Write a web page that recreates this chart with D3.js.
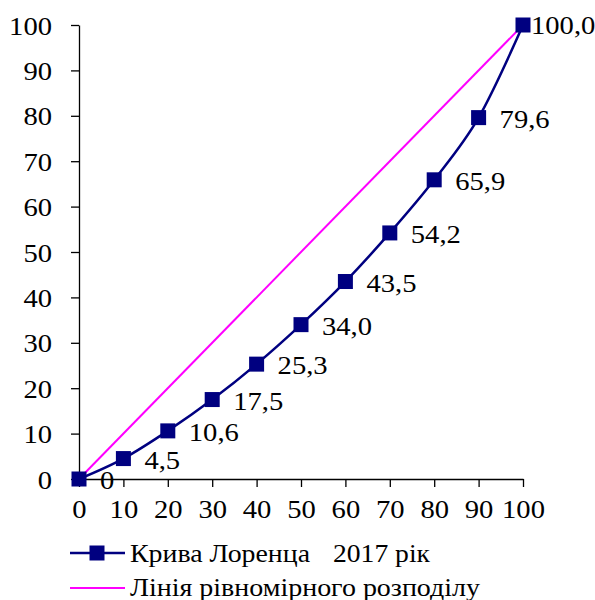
<!DOCTYPE html>
<html><head><meta charset="utf-8">
<script src="https://cdn.jsdelivr.net/npm/d3@7"></script>
<style>body{margin:0;background:#fff}svg{display:block}</style>
</head><body>
<script>
const xValues = [0,10,20,30,40,50,60,70,80,90,100];
const lorenz = [0,4.5,10.6,17.5,25.3,34.0,43.5,54.2,65.9,79.6,100.0];
const lorenzLabels = ["0","4,5","10,6","17,5","25,3","34,0","43,5","54,2","65,9","79,6","100,0"];
const equality = [0,100];
const equalityX = [0,100];
const ticks = [0,10,20,30,40,50,60,70,80,90,100];
const legendNames = ["Крива Лоренца","Лінія рівномірного розподілу"];
const legendExtra = "2017 рік";

const FONT='"Liberation Serif","Times New Roman",serif';
const W=595,H=600;
const svg=d3.select("body").append("svg").attr("width",W).attr("height",H);
const x=d3.scaleLinear().domain([0,100]).range([79,523]);
const y=d3.scaleLinear().domain([0,100]).range([479,25]);
const navy="#000080", magenta="#FF00FF";
const SX=1.1;

const yAx=svg.append("g").attr("transform","translate(79,0)")
  .call(d3.axisLeft(y).tickValues(ticks).tickSize(8).tickPadding(10).tickSizeOuter(0));
const xAx=svg.append("g").attr("transform","translate(0,479)")
  .call(d3.axisBottom(x).tickValues(ticks).tickSize(8).tickPadding(6).tickSizeOuter(0));
[yAx,xAx].forEach(g=>{
  g.selectAll("path,line").attr("stroke","#000").attr("stroke-width",1.3);
  g.selectAll("text").attr("font-size",26).attr("fill","#000").style("font-family",FONT);
});
xAx.selectAll(".tick text").attr("x",0).attr("y",0).attr("dy",0)
  .attr("transform",`translate(0,39) scale(${SX},1)`);
yAx.selectAll(".tick text").attr("x",0).attr("dy",0)
  .attr("transform",`translate(-27,9) scale(${SX},1)`);

// equality line
svg.append("path").datum(equalityX.map((d,i)=>[d,equality[i]]))
  .attr("d",d3.line().x(d=>x(d[0])).y(d=>y(d[1])))
  .attr("stroke",magenta).attr("stroke-width",2).attr("fill","none");

const pts=xValues.map((d,i)=>[d,lorenz[i]]);
svg.append("path").datum(pts)
  .attr("d",d3.line().x(d=>x(d[0])).y(d=>y(d[1])).curve(d3.curveCatmullRom.alpha(0)))
  .attr("stroke",navy).attr("stroke-width",2.5).attr("fill","none");

const ms=15;
svg.selectAll("rect.m").data(pts).enter().append("rect")
  .attr("x",d=>x(d[0])-ms/2).attr("y",d=>y(d[1])-ms/2)
  .attr("width",ms).attr("height",ms).attr("fill",navy);

svg.selectAll("text.lbl").data(pts).enter().append("text")
  .attr("transform",(d,i)=>`translate(${x(d[0])+(i===10?8:21)},${y(d[1])+(i===10?9:10)}) scale(${SX},1)`)
  .attr("font-size",26).attr("fill","#000").style("font-family",FONT).text((d,i)=>lorenzLabels[i]);

// legend
const lg=svg.append("g");
lg.append("line").attr("x1",70).attr("x2",125).attr("y1",553).attr("y2",553).attr("stroke",navy).attr("stroke-width",2.5);
lg.append("rect").attr("x",97-7.5).attr("y",553-7.5).attr("width",15).attr("height",15).attr("fill",navy);
lg.append("text").attr("x",130).attr("y",562).attr("font-size",25).style("font-family",FONT).attr("textLength",180).attr("lengthAdjust","spacingAndGlyphs").text(legendNames[0]);
lg.append("text").attr("x",333).attr("y",562).attr("font-size",25).style("font-family",FONT).attr("textLength",97).attr("lengthAdjust","spacingAndGlyphs").text(legendExtra);
lg.append("line").attr("x1",70).attr("x2",125).attr("y1",588).attr("y2",588).attr("stroke",magenta).attr("stroke-width",2);
lg.append("text").attr("x",130).attr("y",596).attr("font-size",25).style("font-family",FONT).attr("textLength",350).attr("lengthAdjust","spacingAndGlyphs").text(legendNames[1]);
</script>
</body></html>
